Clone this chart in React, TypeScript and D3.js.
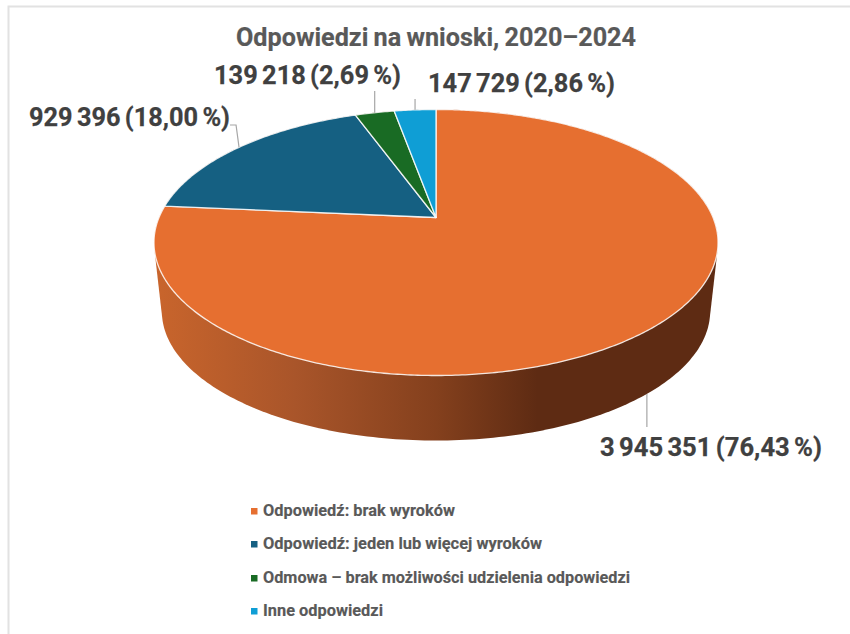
import React from "react";
import * as d3 from "d3";

const titleText = "Odpowiedzi na wnioski, 2020–2024";
const categories = [
  "Odpowiedź: brak wyroków",
  "Odpowiedź: jeden lub więcej wyroków",
  "Odmowa – brak możliwości udzielenia odpowiedzi",
  "Inne odpowiedzi",
];
const values = [3945351, 929396, 139218, 147729];
const valueLabels = ["3 945 351 (76,43 %)", "929 396 (18,00 %)", "139 218 (2,69 %)", "147 729 (2,86 %)"];
const colors = ["#E66F30", "#156082", "#196B24", "#0F9ED5"];

const FONT = "Roboto, 'Liberation Sans', sans-serif";
const cx = 436, pivotY = 217.5;
const persp = 0.188, kx = 277, ky = 128.3;
const bottomScale = 0.972, bottomPivotY = 287;

function project(a: number, s = 1, py = pivotY): [number, number] {
  const u = Math.sin(a), v = -Math.cos(a), d = 1 - persp * v;
  return [cx + (s * kx * u) / d, py + (s * ky * v) / d];
}

const arcs = d3.pie<number>().sort(null)(values);
const line = d3.line();
const angleSteps = d3.range(0, 361, 1).map((d) => (d * Math.PI) / 180);

function slicePath(start: number, end: number) {
  const n = Math.max(2, Math.ceil((end - start) / 0.01));
  const pts: [number, number][] = [[cx, pivotY]];
  for (let i = 0; i <= n; i++) pts.push(project(start + ((end - start) * i) / n));
  return line(pts) + "Z";
}

const hull = d3.polygonHull([
  ...angleSteps.map((a) => project(a)),
  ...angleSteps.map((a) => project(a, bottomScale, bottomPivotY)),
])!;

const mid = (i: number) => (arcs[i].startAngle + arcs[i].endAngle) / 2;
const [ox, oy] = project(mid(0), bottomScale, bottomPivotY);
const [bx, by] = project(mid(1));
const [gx, gy] = project(mid(2));
const [lx, ly] = project(mid(3));

const leaders: [number, number][][] = [
  [[ox, oy], [ox, 427]],
  [[bx, by], [bx - 3, 125], [230, 125]],
  [[gx, gy], [gx, 91]],
  [[lx, ly], [lx, 99]],
];
const labelPos = [
  { x: 600, y: 456, w: 222 },
  { x: 29, y: 126, w: 201 },
  { x: 214, y: 84, w: 187 },
  { x: 428, y: 92, w: 187 },
];
const legendY = [516, 549, 583, 616];
const legendW = [192, 279, 367, 120];

export default function App() {
  return (
    <svg width={850} height={634} style={{ position: "absolute", left: 0, top: 0, background: "#fff" }} fontFamily={FONT}>
      <defs>
        <linearGradient id="wall" gradientUnits="userSpaceOnUse" x1={154} x2={718} y1={0} y2={0}>
          <stop offset="0" stopColor="#C9652C" />
          <stop offset="0.25" stopColor="#A9552A" />
          <stop offset="0.5" stopColor="#84401D" />
          <stop offset="0.68" stopColor="#5E2B13" />
          <stop offset="1" stopColor="#5E2B13" />
        </linearGradient>
      </defs>
      <path d="M8.5 634V6.5H850" fill="none" stroke="#E2E2E2" strokeWidth={2} />
      <path d={line(hull) + "Z"} fill="url(#wall)" />
      {arcs.map((a, i) => (
        <path key={i} d={slicePath(a.startAngle, a.endAngle)} fill={colors[i]} stroke="#fff" strokeOpacity={0.85} strokeWidth={1.3} strokeLinejoin="round" />
      ))}
      {leaders.map((l, i) => (
        <path key={i} d={line(l)!} fill="none" stroke="#A6A6A6" strokeWidth={1.2} />
      ))}
      <text x={236} y={46} fontSize={26} fontWeight={700} fill="#595959" stroke="#595959" strokeWidth={0.2} wordSpacing={-1} textLength={400} lengthAdjust="spacingAndGlyphs">{titleText}</text>
      {valueLabels.map((t, i) => (
        <text key={i} x={labelPos[i].x} y={labelPos[i].y} fontSize={26} fontWeight={700} fill="#404040" stroke="#404040" strokeWidth={0.25} wordSpacing={-2} textLength={labelPos[i].w} lengthAdjust="spacingAndGlyphs">{t}</text>
      ))}
      {categories.map((c, i) => (
        <g key={i}>
          <rect x={251} y={legendY[i] - 8} width={6.5} height={6.5} fill={colors[i]} />
          <text x={263} y={legendY[i]} fontSize={16.5} fontWeight={700} fill="#595959" stroke="#595959" strokeWidth={0.15} textLength={legendW[i]} lengthAdjust="spacingAndGlyphs">{c}</text>
        </g>
      ))}
    </svg>
  );
}
